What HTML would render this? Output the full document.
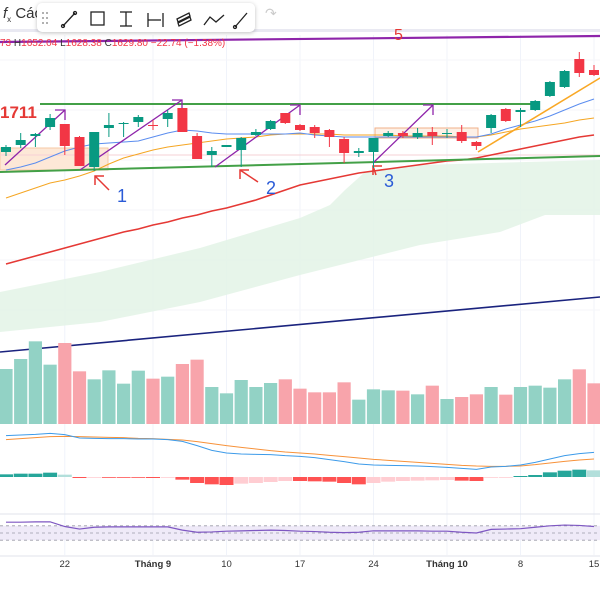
<!DOCTYPE html>
<html><head><meta charset="utf-8"><style>
body{margin:0;background:#fff;font-family:"Liberation Sans",sans-serif;}
#wrap{position:relative;width:600px;height:600px;overflow:hidden;background:#fff}
svg{position:absolute;left:0;top:0}
#toolbar{position:absolute;left:37px;top:3px;width:218px;height:29px;background:#fff;border-radius:5px;box-shadow:0 1px 4px rgba(0,0,0,.25);}
.tb{position:absolute;top:0;font-size:14px;color:#333}
</style></head><body>
<div id="wrap">
<svg id="chart" width="600" height="600"></svg>
<div class="tb" style="left:3px;top:5px;font-size:15px"><i>f</i><sub style="font-size:8px">x</sub> Các</div>
<div id="toolbar">
<svg width="218" height="29" style="position:relative">
<g fill="#999"><circle cx="6" cy="10" r="1"/><circle cx="10" cy="10" r="1"/><circle cx="6" cy="15" r="1"/><circle cx="10" cy="15" r="1"/><circle cx="6" cy="20" r="1"/><circle cx="10" cy="20" r="1"/></g>
<g stroke="#222" stroke-width="1.3" fill="none">
<g><line x1="26" y1="23" x2="38" y2="10"/><circle cx="26" cy="23" r="1.5"/><circle cx="38" cy="10" r="1.5"/></g>
<g><rect x="54" y="9" width="13" height="13"/></g>
<g><line x1="83" y1="9" x2="95" y2="9"/><line x1="89" y1="9" x2="89" y2="23"/><line x1="83" y1="23" x2="95" y2="23"/></g>
<g><line x1="111" y1="10" x2="111" y2="24"/><line x1="111" y1="17" x2="124" y2="17"/><line x1="126" y1="10" x2="126" y2="24"/></g>
<g><path d="M140 16 L152 10 L153 13 L141 19Z M141 20 L153 14 L154 17 L142 23Z"/></g>
<g><polyline points="167,22 173,14 179,19 187,12"/></g>
<g><line x1="198" y1="24" x2="210" y2="10"/><circle cx="198" cy="24" r="1.5"/></g>
</g></svg></div>
<div class="tb" style="left:265px;top:5px;color:#ccc">↷</div>
</div>
<script>
// ---- data ----
const opens =[1663,1670,1679,1688,1691,1678,1648,1687,1691,1693,1690,1696,1707,1679,1660,1668,1665,1680,1686,1702,1690,1688,1685,1676,1662,1663,1679,1682,1678,1683,1681,1683,1673,1687,1706,1703,1705,1719,1728,1756,1745];
const highs =[1670,1682,1682,1701,1691,1679,1683,1702,1693,1700,1695,1705,1707,1682,1668,1670,1678,1686,1695,1702,1691,1690,1686,1678,1667,1677,1684,1684,1687,1688,1686,1690,1674,1701,1707,1707,1715,1734,1745,1763,1750];
const lows  =[1659,1667,1668,1685,1660,1649,1644,1678,1678,1688,1685,1688,1683,1656,1648,1668,1648,1679,1685,1691,1684,1677,1668,1652,1658,1647,1678,1677,1676,1670,1677,1672,1665,1682,1693,1688,1704,1718,1727,1738,1739];
const closes=[1668,1675,1681,1697,1669,1649,1683,1690,1692,1698,1689,1702,1683,1656,1664,1670,1677,1683,1694,1692,1685,1682,1678,1662,1664,1677,1682,1679,1682,1679,1682,1674,1669,1700,1694,1705,1714,1733,1744,1742,1740];
const maFast=[1645,1648,1652,1658,1664,1668,1671,1672,1673,1674,1678,1682,1685,1684,1682,1681,1681,1681,1681,1681,1682,1680,1679,1678,1678,1678,1678,1678,1678,1678,1678,1678,1678,1681,1686,1690,1694,1699,1705,1711,1716];
const maMid=[1617,1622,1627,1632,1635,1639,1644,1651,1657,1661,1665,1668,1670,1672,1674,1676,1677,1678,1680,1681,1681,1681,1681,1680,1680,1680,1680,1679,1679,1679,1679,1678,1678,1680,1683,1686,1688,1690,1692,1695,1697];
const maSlow=[1551,1555,1559,1563,1567,1571,1575,1579,1583,1586,1590,1593,1597,1600,1604,1607,1611,1615,1620,1625,1630,1633,1636,1639,1642,1644,1646,1648,1650,1652,1654,1655,1657,1660,1663,1666,1669,1672,1675,1678,1680];
const volumes=[165,195,248,178,243,158,134,161,121,160,136,142,180,193,111,92,132,111,123,134,106,95,95,125,73,104,101,100,89,115,75,81,89,111,88,111,115,109,134,164,122];
const macdLine=[12.4,12.6,12.8,13.1,12.7,11.7,11.6,11.5,11.5,11.4,11.4,11.2,10.7,9.4,8.0,7.2,6.9,6.8,6.7,6.4,6.2,5.8,5.2,4.6,3.9,3.6,3.5,3.4,3.3,3.1,2.9,2.6,2.3,3.0,3.2,3.6,4.4,5.4,6.4,7.0,7.4];
const signalLine=[11.2,11.5,11.8,12.1,12.2,12.1,12.0,11.9,11.8,11.6,11.5,11.3,11.1,10.6,10.0,9.4,8.9,8.4,7.9,7.5,7.2,6.9,6.5,6.1,5.7,5.3,5.0,4.7,4.4,4.1,3.8,3.5,3.3,3.2,3.2,3.3,3.7,4.2,4.7,5.1,5.4];
const macdHist=[0.8,1.0,1.0,1.3,0.7,-0.3,-0.1,-0.1,-0.1,-0.2,-0.3,-0.1,-0.8,-1.8,-2.2,-2.4,-2.0,-1.8,-1.5,-1.2,-1.2,-1.3,-1.4,-1.8,-2.2,-1.8,-1.4,-1.2,-1.1,-1.0,-0.9,-1.1,-1.2,-0.2,-0.1,0.3,0.6,1.4,1.9,2.2,2.0];
const rsi=[80,80,81,81,68,61,66,67,67,67,67,67,58,52,53,55,56,57,58,57,55,54,52,51,52,56,56,56,56,55,55,52,50,60,61,62,66,70,72,71,68];
const dateLabels=["22","Tháng 9","10","17","24","Tháng 10","8","15"];
const dateIdx=[4,10,15,20,25,30,35,40];

// ---- scales ----
const X=i=>6+14.7*i;
const PY=p=>1815-p;
const VY=v=>424-v/3;
const MY=v=>477-v*10/3;
const RY=r=>533-(r-50)*0.36;

const svg=document.getElementById('chart');
const NS='http://www.w3.org/2000/svg';
function el(tag,attrs,parent){const e=document.createElementNS(NS,tag);for(const k in attrs)e.setAttribute(k,attrs[k]);(parent||svg).appendChild(e);return e;}
function line(pts,stroke,w,name,extra){const e=el('polyline',Object.assign({points:pts.map(p=>p.join(',')).join(' '),fill:'none',stroke:stroke,'stroke-width':w},extra||{}));

return e;}

// grid
dateIdx.forEach((d,k)=>{const g=el('line',{x1:X(d),x2:X(d),y1:35,y2:555,stroke:'#f0f3fa','stroke-width':1});

});
[60,110,160,210,260,310].forEach(y=>{const g=el('line',{x1:0,x2:600,y1:y,y2:y,stroke:'#f5f6fa'});

});
// top band
let tb=el('rect',{x:0,y:29,width:600,height:3,fill:'#e9e9f2'});



// ichimoku cloud
let cloud=el('polygon',{points:'0,292 100,272 200,248 300,218 330,205 345,190 365,172 420,165 600,160 600,215 545,215 500,232 420,245 300,275 200,302 100,322 0,332',fill:'#e3f3e6',opacity:0.85});



// rectangles
let r1=el('rect',{x:0,y:148,width:108,height:22,fill:'#fde8d7',stroke:'#f6c9a6','stroke-width':1});


let r2=el('rect',{x:375,y:128,width:103,height:10,fill:'#fdf0e6',stroke:'#f0b08a','stroke-width':1});


let hl=el('line',{x1:0,x2:600,y1:155,y2:155,stroke:'#f6d0d6','stroke-width':1});



// MAs
line(maSlow.map((v,i)=>[X(i),PY(v)]),'#e53935',1.6,'ma-slow-line');
line(maMid.map((v,i)=>[X(i),PY(v)]),'#f5a623',1,'ma-mid-line');
line(maFast.map((v,i)=>[X(i),PY(v)]),'#5b8def',1,'ma-fast-line');
// drawings
line([[0,352],[600,297]],'#1a237e',1.6,'long-trendline');
line([[40,104],[535,104]],'#43a047',2,'resistance-line');
line([[0,172],[600,156]],'#43a047',2,'support-line');
line([[0,42],[600,36]],'#8e24aa',2.2,'top-trendline');
line([[478,152],[600,78]],'#f9a825',1.6,'uptrend-line');
[[[5,165],[65,110]],[[80,170],[182,100]],[[215,167],[300,105]],[[373,163],[433,105]]].forEach(a=>{
 line(a,'#8e24aa',1.3,'projection-arrow');
 const [x2,y2]=a[1];line([[x2-10,y2],[x2,y2],[x2,y2+10]],'#8e24aa',1.3,'arrow-head');
});
[[95,176,117,195,'1'],[240,170,266,187,'2'],[373,166,384,180,'3']].forEach(a=>{
 line([[a[0],a[1]],[a[2]-8,a[3]-5]],'#e53935',1.5,'pointer-arrow');
 line([[a[0],a[1]+9],[a[0],a[1]],[a[0]+9,a[1]]],'#e53935',1.5,'pointer-head');
 const t=el('text',{x:a[2],y:a[3]+7,fill:'#2a5bd7','font-size':18,'font-family':'Liberation Sans, sans-serif'});t.textContent=a[4];
 
 
});
let t5=el('text',{x:394,y:40,fill:'#e53935','font-size':16});t5.textContent='5';


let t1711=el('text',{x:0,y:118,fill:'#e53935','font-size':17,'font-weight':'bold'});t1711.textContent='1711';



// candles
opens.forEach((o,i)=>{const c=closes[i],up=c>=o,col=up?'#089981':'#f23645';
 const w=el('line',{x1:X(i),x2:X(i),y1:PY(highs[i]),y2:PY(lows[i]),stroke:col,'stroke-width':1});
 
 
 const b=el('rect',{x:X(i)-5,y:PY(Math.max(o,c)),width:10,height:Math.max(1,Math.abs(c-o)),fill:col});
 
 
});

// legend text
let lg=el('text',{x:0,y:46,fill:'#f23645','font-size':10});
lg.innerHTML='73 <tspan fill="#333">H</tspan>1652.04 <tspan fill="#333">L</tspan>1628.38 <tspan fill="#333">C</tspan>1629.80 −22.74 (−1.38%)';



// volume
volumes.forEach((v,i)=>{const up=closes[i]>=opens[i];
 const b=el('rect',{x:X(i)-6.6,y:VY(v),width:13.2,height:424-VY(v),fill:up?'#92d2c5':'#f8a4ab'});
 
 });

// macd
macdHist.forEach((h,i)=>{const prev=i?macdHist[i-1]:h;let col;
 if(h>=0)col=h>=prev?'#26a69a':'#b2dfdb';else col=h<=prev?'#ff5252':'#ffcdd2';
 const y0=MY(0),y1=MY(h);
 const b=el('rect',{x:X(i)-7,y:Math.min(y0,y1),width:14,height:Math.max(0.8,Math.abs(y1-y0)),fill:col});
 
 });
line(signalLine.map((v,i)=>[X(i),MY(v)]),'#f7923a',1,'macd-signal-line');
line(macdLine.map((v,i)=>[X(i),MY(v)]),'#3d9be9',1,'macd-line');

// pane separators
[514,556].forEach(y=>{const s=el('line',{x1:0,x2:600,y1:y,y2:y,stroke:'#e0e3eb'});

});

// rsi
let band=el('rect',{x:0,y:RY(70),width:600,height:RY(30)-RY(70),fill:'#efeaf8'});


[70,50,30].forEach(l=>{const d=el('line',{x1:0,x2:600,y1:RY(l),y2:RY(l),stroke:'#9a9aa8','stroke-dasharray':'3,3','stroke-width':0.8});

});
line(rsi.map((v,i)=>[X(i),RY(v)]),'#7e57c2',1.2,'rsi-line');

// time axis
dateLabels.forEach((t,k)=>{const tx=el('text',{x:X(dateIdx[k]),y:567,'text-anchor':'middle','font-size':9.5,fill:'#333','font-weight':t.startsWith('Th')?'bold':'normal'});
 tx.textContent=t;
 
 });
</script>
</body></html>
